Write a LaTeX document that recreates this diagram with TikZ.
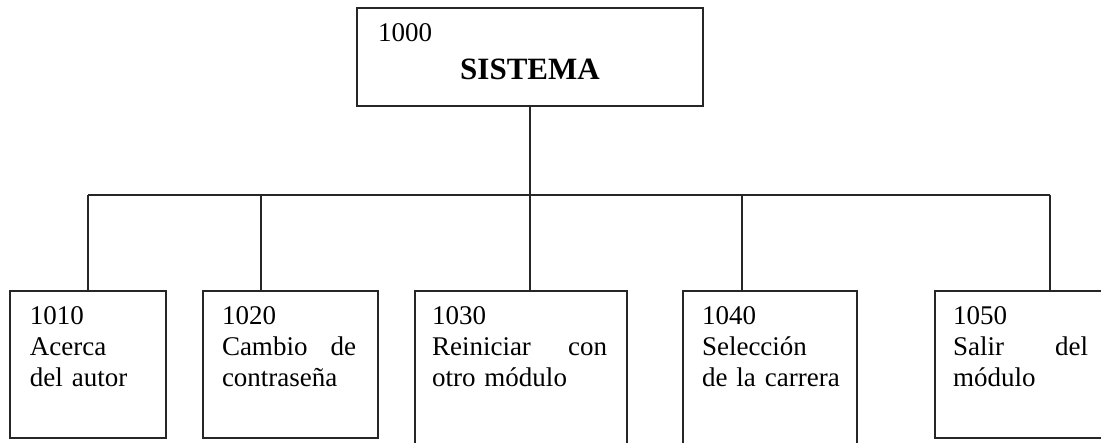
\documentclass[tikz,border=0pt]{standalone}
\usepackage{fontspec}
\setmainfont{Liberation Serif}
\begin{document}
\begin{tikzpicture}[x=1pt,y=-1pt,
  boxnode/.style={draw=black!85, line width=1.2pt, rectangle, inner sep=0pt, outer sep=0pt},
  wire/.style={draw=black!85, line width=1.2pt},
  txt/.style={inner sep=0pt, outer sep=0pt, align=left, anchor=north west, font=\fontsize{27}{31}\selectfont, text=black},
  num/.style={inner sep=0pt, outer sep=0pt, anchor=base west, font=\fontsize{27}{31}\selectfont, text=black},
  title/.style={inner sep=0pt, outer sep=0pt, anchor=base, font=\fontsize{31}{36}\selectfont\bfseries, text=black}]
\path[use as bounding box, clip] (0,0) rectangle (1101,443);
\fill[white] (0,0) rectangle (1101,443);
% top box
\node[boxnode, minimum width=346pt, minimum height=98pt] (top) at (530,57) {};
\node[num] (c0) at (378,41.7) {1000};
\node[title] (ct) at (530,80) {SISTEMA};
% bottom boxes
\node[boxnode, minimum width=156pt, minimum height=147pt] (n1) at (88,364.5) {};
\node[boxnode, minimum width=175pt, minimum height=147pt] (n2) at (290.5,364.5) {};
\node[boxnode, minimum width=212pt, minimum height=175pt] (n3) at (521,378.5) {};
\node[boxnode, minimum width=174pt, minimum height=175pt] (n4) at (770,378.5) {};
\node[boxnode, minimum width=175pt, minimum height=147pt] (n5) at (1022.5,364.5) {};
% texts
\node[txt, text width=112pt] (t1) at (30,303.3) {\strut 1010\\Acerca\\del autor};
\node[txt, text width=134pt] (t2) at (222,303.3) {\strut 1020\\Cambio\hfill de\\contraseña};
\node[txt, text width=175pt] (t3) at (432,303.3) {\strut 1030\\Reiniciar\hfill con\\otro módulo};
\node[txt, text width=140pt] (t4) at (702,303.3) {\strut 1040\\Selección\\de la carrera};
\node[txt, text width=135pt] (t5) at (953,303.3) {\strut 1050\\Salir\hfill del\\módulo};
% connectors
\coordinate (d1) at (88,195);
\coordinate (d2) at (261,195);
\coordinate (d3) at (530,195);
\coordinate (d4) at (742,195);
\coordinate (d5) at (1050,195);
\draw[wire] (d1) -- (d5);
\draw[wire] (top.south) -- (top.south |- d3);
\draw[wire] (d1) -- (d1 |- n1.north);
\draw[wire] (d2) -- (d2 |- n2.north);
\draw[wire] (d3) -- (d3 |- n3.north);
\draw[wire] (d4) -- (d4 |- n4.north);
\draw[wire] (d5) -- (d5 |- n5.north);
\end{tikzpicture}
\end{document}
